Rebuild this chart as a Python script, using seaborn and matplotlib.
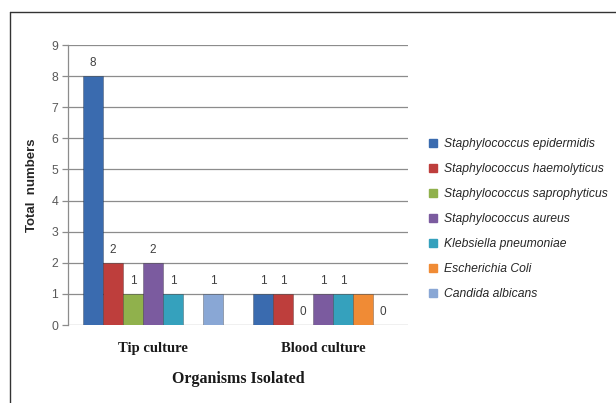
import pandas as pd
import matplotlib
matplotlib.use("Agg")
import matplotlib.pyplot as plt
import seaborn as sns
from matplotlib.lines import Line2D

# data
cultures = ["Tip culture", "Blood culture"]
organisms = [
    "Staphylococcus epidermidis",
    "Staphylococcus haemolyticus",
    "Staphylococcus saprophyticus",
    "Staphylococcus aureus",
    "Klebsiella pneumoniae",
    "Escherichia Coli",
    "Candida albicans",
]
tip_counts = [8, 2, 1, 2, 1, None, 1]
blood_counts = [1, 1, 0, 1, 1, 1, 0]
# value labels as printed on the chart (blank where the original shows none)
tip_labels = ["8", "2", "1", "2", "1", "", "1"]
blood_labels = ["1", "1", "0", "1", "1", "", "0"]
colors = ["#3A6BAF", "#BE3E3C", "#90B14C", "#7B5B9F", "#35A1BD", "#F08B35", "#89A7D5"]

rows = []
for org, t, b in zip(organisms, tip_counts, blood_counts):
    rows.append({"culture": "Tip culture", "organism": org, "count": t})
    rows.append({"culture": "Blood culture", "organism": org, "count": b})
df = pd.DataFrame(rows)
df["count"] = df["count"].astype(float)

label_map = {}
for org, tl, bl in zip(organisms, tip_labels, blood_labels):
    label_map[("Tip culture", org)] = tl
    label_map[("Blood culture", org)] = bl

sns.set_style("white")
plt.rcParams["font.family"] = ["Liberation Sans", "DejaVu Sans"]

fig = plt.figure(figsize=(6.16, 4.03), dpi=100)
ax = fig.add_axes([68 / 616, 1 - 325 / 403, 340 / 616, 280 / 403])

palette = dict(zip(organisms, colors))
sns.barplot(data=df, x="culture", y="count", hue="organism",
            order=cultures, hue_order=organisms, palette=palette,
            width=0.824, saturation=1, errorbar=None, ax=ax,
            edgecolor="#00000040", linewidth=0.7)

# value labels
for org, cont in zip(organisms, ax.containers):
    for bar in cont:
        h = bar.get_height()
        if pd.isna(h):
            continue
        xc = bar.get_x() + bar.get_width() / 2
        cult = cultures[int(round(xc))]
        txt = label_map.get((cult, org), "")
        if txt:
            ax.annotate(txt, (xc, h), xytext=(0, 9.4), textcoords="offset points",
                        ha="center", va="center", fontsize=8.5, color="#404040")

ax.set_ylim(0, 9)
ax.set_xlim(-0.5, 1.5)
ax.set_yticks(range(0, 10))
ax.yaxis.grid(True, color="#8C8C8C", linewidth=0.9)
ax.set_axisbelow(True)
for s in ["top", "right", "bottom"]:
    ax.spines[s].set_visible(False)
ax.spines["left"].set_color("#8C8C8C")
ax.spines["left"].set_linewidth(0.9)
ax.tick_params(axis="y", length=4, width=0.9, color="#8C8C8C", pad=3,
               labelsize=8.8, labelcolor="#595959", left=True)
ax.tick_params(axis="x", length=0, pad=12)
for lbl in ax.get_xticklabels():
    lbl.set_fontfamily("Liberation Serif")
    lbl.set_fontweight("bold")
    lbl.set_fontsize(10.5)
    lbl.set_color("#1a1a1a")

ax.set_ylabel("Total  numbers", fontsize=9.5, fontweight="bold", color="#262626")
ax.yaxis.set_label_coords(-36 / 340, 0.5)
ax.yaxis.label.set_va("center")
ax.set_xlabel("Organisms Isolated", fontsize=11.5, fontweight="bold",
              family="Liberation Serif", color="#1a1a1a")
ax.xaxis.set_label_coords(0.5, -54 / 280)
ax.xaxis.label.set_va("center")

# legend to the right
ax.get_legend().remove()
handles = [Line2D([], [], marker="s", linestyle="", markersize=5.5,
                  markerfacecolor=c, markeredgecolor=c) for c in colors]
fig.legend(handles, organisms, loc="center left",
           bbox_to_anchor=(428 / 616, 1 - 219 / 403),
           frameon=False, borderpad=0, borderaxespad=0,
           handlelength=0.8, handletextpad=0.5, labelspacing=1.08,
           prop={"family": "Liberation Sans", "style": "italic", "size": 8.7})

# outer frame (left and top edges)
fig.add_artist(Line2D([10 / 616, 10 / 616], [0, 1 - 12 / 403],
                      transform=fig.transFigure, color="#333333", linewidth=1))
fig.add_artist(Line2D([10 / 616, 1], [1 - 12 / 403, 1 - 12 / 403],
                      transform=fig.transFigure, color="#333333", linewidth=1))

fig.savefig("out.png", dpi=100, facecolor="white")
